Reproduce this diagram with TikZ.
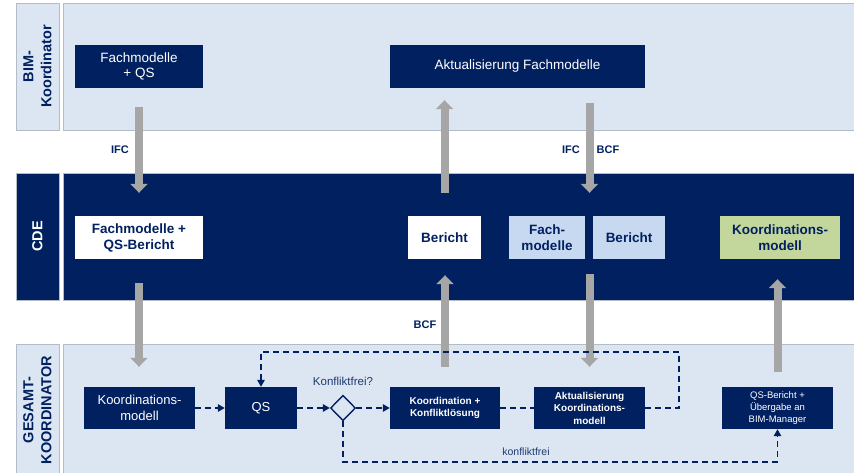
\documentclass[tikz,border=0pt]{standalone}
\usepackage{fontspec}
\setmainfont{Liberation Sans}
\usetikzlibrary{arrows.meta,shapes.geometric}

\definecolor{navy}{HTML}{002060}
\definecolor{lanelight}{HTML}{DCE6F2}
\definecolor{boxlight}{HTML}{C6D9F1}
\definecolor{boxgreen}{HTML}{C3D69B}
\definecolor{arrowgray}{HTML}{A6A6A6}
\definecolor{lanegray}{HTML}{B4BCC8}
\definecolor{notenavy}{HTML}{1F3A72}

\newcommand{\fs}[2]{\fontsize{#1}{#2}\selectfont}

\begin{document}
\begin{tikzpicture}[x=1pt,y=-1pt,
  lanebody/.style={draw=lanegray, line width=0.7pt},
  lanelabel/.style={draw=lanegray, line width=0.7pt, rotate=90, minimum width=127pt,
    minimum height=43pt, inner sep=0pt, align=center, font=\bfseries\fs{14.5}{18}},
  box/.style={rectangle, inner sep=0pt, align=center},
  topbox/.style={box, fill=navy, text=white, minimum height=43pt, font=\fs{13.5}{15.7}},
  cdebox/.style={box, text=navy, minimum height=43pt, font=\bfseries\fs{13.5}{16}},
  lowbox/.style={box, fill=navy, text=white, minimum height=42pt},
  grayarrow/.style={draw=arrowgray, fill=arrowgray, line width=8pt,
    -{Triangle[width=17pt,length=9pt]}},
  flow/.style={draw=navy, line width=1.4pt, dash pattern=on 6pt off 4pt},
  flowarrow/.style={flow, -{Triangle[length=7pt,width=7.5pt]}},
  tag/.style={text=navy, inner sep=0pt, font=\bfseries\fs{11}{13}},
  note/.style={text=notenavy, inner sep=0pt}
]
\useasboundingbox (0,0) rectangle (854,472);

% swim lanes
\filldraw[lanebody, fill=lanelight] (63,3) rectangle (856,130);
\filldraw[lanebody, fill=navy] (63,173) rectangle (856,300);
\filldraw[lanebody, fill=lanelight] (63,344) rectangle (856,476);
\node[lanelabel, fill=lanelight, text=navy] (laneBIM) at (37.5,66.5) {BIM-\\Koordinator};
\node[lanelabel, fill=navy, text=white] (laneCDE) at (37.5,236.5) {CDE};
\node[lanelabel, fill=lanelight, text=navy, minimum width=132pt] (laneGK) at (37.5,410) {GESAMT-\\KOORDINATOR};

% BIM coordinator
\node[topbox, minimum width=128pt] (fmqs) at (139,66.5) {Fachmodelle\\+ QS};
\node[topbox, minimum width=255pt] (aktfm) at (517.5,66.5) {Aktualisierung Fachmodelle};

% CDE
\node[cdebox, fill=white, minimum width=128pt] (cdefm) at (139,237.5) {Fachmodelle +\\QS-Bericht};
\node[cdebox, fill=white, minimum width=73pt] (ber1) at (444.5,237.5) {Bericht};
\node[cdebox, fill=boxlight, minimum width=76pt] (fachm) at (547,237.5) {Fach-\\modelle};
\node[cdebox, fill=boxlight, minimum width=72pt] (ber2) at (629,237.5) {Bericht};
\node[cdebox, fill=boxgreen, minimum width=120pt] (kmod) at (780,237.5) {Koordinations-\\modell};

% overall coordinator
\node[lowbox, minimum width=111pt, font=\fs{13}{16}] (km) at (139.5,408) {Koordinations-\\modell};
\node[lowbox, minimum width=72pt, font=\fs{13}{16}] (qs) at (261,408) {QS};
\node[diamond, draw=navy, line width=1.4pt, fill=lanelight, minimum width=25pt,
  minimum height=25.5pt, inner sep=0pt] (dia) at (343,408) {};
\node[lowbox, minimum width=110pt, font=\bfseries\fs{10}{12.5}] (kk) at (445,408) {Koordination +\\Konfliktlösung};
\node[lowbox, minimum width=111pt, font=\bfseries\fs{10}{12.5}] (akm) at (589.5,408) {Aktualisierung\\Koordinations-\\modell};
\node[lowbox, minimum width=111pt, font=\fs{9.5}{12.3}] (qsb) at (777.5,408) {QS-Bericht +\\Übergabe an\\BIM-Manager};

% exchanges through the CDE
\draw[grayarrow, shorten <=19pt, shorten >=23pt] (fmqs.south) -- (cdefm.north);
\draw[grayarrow, shorten <=24pt, shorten >=20pt] (cdefm.south) -- (km.north -| cdefm.south);
\draw[grayarrow, shorten <=23pt, shorten >=12pt] (ber1.north) -- (ber1.north |- aktfm.south);
\draw[grayarrow, shorten <=20pt, shorten >=16pt] (kk.north) -- (kk.north |- ber1.south);
\draw[grayarrow, shorten <=15pt, shorten >=23pt] (akm.north |- aktfm.south) -- (akm.north |- fachm.north);
\draw[grayarrow, shorten <=15pt, shorten >=20pt] (akm.north |- fachm.south) -- (akm.north);
\draw[grayarrow, shorten <=15pt, shorten >=20pt] (qsb.north) -- (qsb.north |- kmod.south);

\node[tag] (ifc1) at (120,150) {IFC};
\node[tag] (ifc2) at (571,150) {IFC};
\node[tag] (bcf1) at (608,150) {BCF};
\node[tag] (bcf2) at (425,325) {BCF};

% coordination workflow
\coordinate (loopR) at (679,352);
\coordinate (loopB) at (343,462);
\draw[flowarrow] (km.east) -- (qs.west);
\draw[flowarrow] (qs.east) -- (dia.west);
\draw[flowarrow] (dia.east) -- (kk.west);
\draw[flow] (kk.east) -- (akm.west);
\draw[flowarrow] (akm.east) -| (loopR) -| (qs.north);
\draw[flowarrow] (dia.south) -- (loopB) -| (qsb.south);

\node[note, font=\fs{11.5}{13}] (qfree) at (343,381) {Konfliktfrei?};
\node[note, font=\fs{10.5}{12}] (free) at (526,452) {konfliktfrei};
\end{tikzpicture}
\end{document}
